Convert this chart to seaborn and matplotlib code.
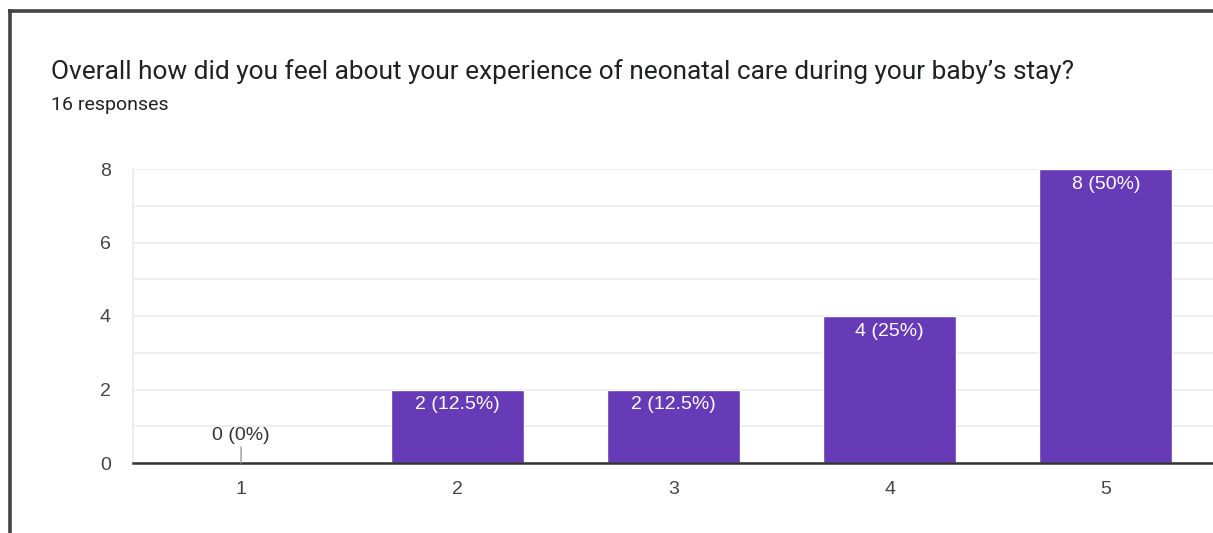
import matplotlib
matplotlib.use("Agg")
import matplotlib.pyplot as plt
from matplotlib.lines import Line2D
import seaborn as sns

# ── Data ──────────────────────────────────────────────────────────
categories = ["1", "2", "3", "4", "5"]
counts     = [0, 2, 2, 4, 8]
labels     = ["0 (0%)", "2 (12.5%)", "2 (12.5%)", "4 (25%)", "8 (50%)"]
y_ticks    = [0, 2, 4, 6, 8]

title    = "Overall how did you feel about your experience of neonatal care during your baby\u2019s stay?"
subtitle = "16 responses"

BAR_COLOR = "#673ab7"
W, H = 1213, 533
CHART_FONT = ["Liberation Sans", "DejaVu Sans"]

sns.set_theme(style="white")
plt.rcParams["font.family"] = ["Roboto", "DejaVu Sans"]

fig = plt.figure(figsize=(W / 100, H / 100), dpi=100)
fig.patch.set_facecolor("white")

# axes placed in pixel terms: left 133, right 1214, top 169, bottom 463
ax = fig.add_axes([133 / W, 1 - 463 / H, (1214 - 133) / W, (463 - 169) / H])

sns.barplot(x=categories, y=counts, color=BAR_COLOR, width=0.615,
            saturation=1, ax=ax, zorder=3)

ax.set_xlim(-0.5, 4.5)
ax.set_ylim(0, 8)
ax.set_yticks(y_ticks)
ax.set_yticks(range(0, 9), minor=True)
ax.grid(True, which="both", axis="y", color="#ebebeb", linewidth=1.2, zorder=0)
ax.set_xlabel("")
ax.set_ylabel("")

for side in ["top", "right"]:
    ax.spines[side].set_visible(False)
ax.spines["left"].set_color("#ebebeb")
ax.spines["left"].set_linewidth(1.2)
ax.spines["bottom"].set_color("#333333")
ax.spines["bottom"].set_linewidth(1.8)
ax.spines["bottom"].set_zorder(5)

ax.tick_params(axis="both", which="both", length=0, labelsize=14, colors="#444444")
ax.tick_params(axis="y", pad=16)
ax.tick_params(axis="x", pad=13)
for t in ax.get_xticklabels() + ax.get_yticklabels():
    t.set_family(CHART_FONT)

# ── Value labels ──────────────────────────────────────────────────
for i, (v, lab) in enumerate(zip(counts, labels)):
    if v == 0:
        ax.annotate(lab, xy=(i, v), xytext=(0, 14), textcoords="offset points",
                    ha="center", va="bottom", fontsize=14, color="#333333",
                    family=CHART_FONT,
                    arrowprops=dict(arrowstyle="-", color="#999999", lw=1,
                                    shrinkA=0, shrinkB=0), zorder=6)
    else:
        ax.annotate(lab, xy=(i, v), xytext=(0, -5), textcoords="offset points",
                    ha="center", va="top", fontsize=14, color="white",
                    family=CHART_FONT, zorder=6)

# ── Titles ────────────────────────────────────────────────────────
fig.text(51 / W, 1 - 72 / H, title, fontsize=18.9, color="#202124", va="center", ha="left")
fig.text(51 / W, 1 - 105 / H, subtitle, fontsize=14, color="#202124", va="center", ha="left")

# ── Card frame (left and top dark edges) ──────────────────────────
fig.add_artist(Line2D([9.5 / W, 9.5 / W], [0, 1 - 9 / H], color="#444444",
                      linewidth=2.6, solid_capstyle="butt", transform=fig.transFigure))
fig.add_artist(Line2D([8 / W, 1], [1 - 10.5 / H, 1 - 10.5 / H], color="#444444",
                      linewidth=2.6, solid_capstyle="butt", transform=fig.transFigure))

fig.savefig("out.png", dpi=100, facecolor="white")
